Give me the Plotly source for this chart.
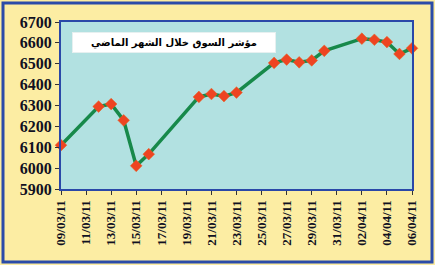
import plotly.graph_objects as go

dates = ["2011-03-09", "2011-03-12", "2011-03-13", "2011-03-14", "2011-03-15", "2011-03-16",
         "2011-03-20", "2011-03-21", "2011-03-22", "2011-03-23",
         "2011-03-26", "2011-03-27", "2011-03-28", "2011-03-29", "2011-03-30",
         "2011-04-02", "2011-04-03", "2011-04-04", "2011-04-05", "2011-04-06"]
values = [6110, 6295, 6307, 6229, 6011, 6067,
          6341, 6355, 6345, 6362,
          6504, 6520, 6507, 6516, 6562,
          6620, 6615, 6604, 6547, 6574]
title_text = "مؤشر السوق خلال الشهر الماضي"

L, R, T, B = 61, 23, 22, 76
W, H = 435, 265
pw, ph = W - L - R, H - T - B

def px_x(p):
    return (p - L) / pw

def px_y(p):
    return (H - B - p) / ph

fig = go.Figure()
fig.add_trace(go.Scatter(
    x=dates, y=values, mode="lines+markers",
    line=dict(color="#17894A", width=3.5),
    marker=dict(symbol="diamond", size=9, color="#EE4422",
                line=dict(color="#E8601C", width=0.5)),
    cliponaxis=False, hoverinfo="skip"))

fig.update_layout(
    width=W, height=H,
    margin=dict(l=L, r=R, t=T, b=B),
    paper_bgcolor="#FCEDA3",
    plot_bgcolor="#B2E1E1",
    showlegend=False,
    xaxis=dict(type="date", range=["2011-03-09", "2011-04-06"],
               tick0="2011-03-09", dtick=2 * 86400000, tickformat="%d/%m/%y",
               tickangle=-90, showgrid=False, zeroline=False,
               showline=True, linecolor="#2A48A8", linewidth=2, mirror=True,
               ticks="outside", ticklen=4, tickcolor="#333333",
               tickfont=dict(family="Liberation Serif", size=13, color="#111122",
                             weight="bold")),
    yaxis=dict(range=[5900, 6700], dtick=100, showgrid=False, zeroline=False,
               showline=True, linecolor="#2A48A8", linewidth=2, mirror=True,
               ticks="outside", ticklen=4, tickcolor="#333333",
               tickfont=dict(family="Liberation Serif", size=16, color="#111122",
                             weight="bold")),
)

fig.add_shape(type="rect", xref="paper", yref="paper",
              x0=px_x(3), x1=px_x(432), y0=px_y(262), y1=px_y(3),
              line=dict(color="#2B4BA8", width=3), fillcolor="rgba(0,0,0,0)",
              layer="below")

fig.add_annotation(xref="paper", yref="paper",
                   x=px_x(173.5), y=px_y(42.5), xanchor="center", yanchor="middle",
                   text=title_text, showarrow=False,
                   width=200, height=17, bgcolor="#FFFFFF",
                   bordercolor="#E6F0F0", borderwidth=1,
                   font=dict(family="DejaVu Sans", size=10, color="#000000",
                             weight="bold"))

fig.write_html("out.html")
